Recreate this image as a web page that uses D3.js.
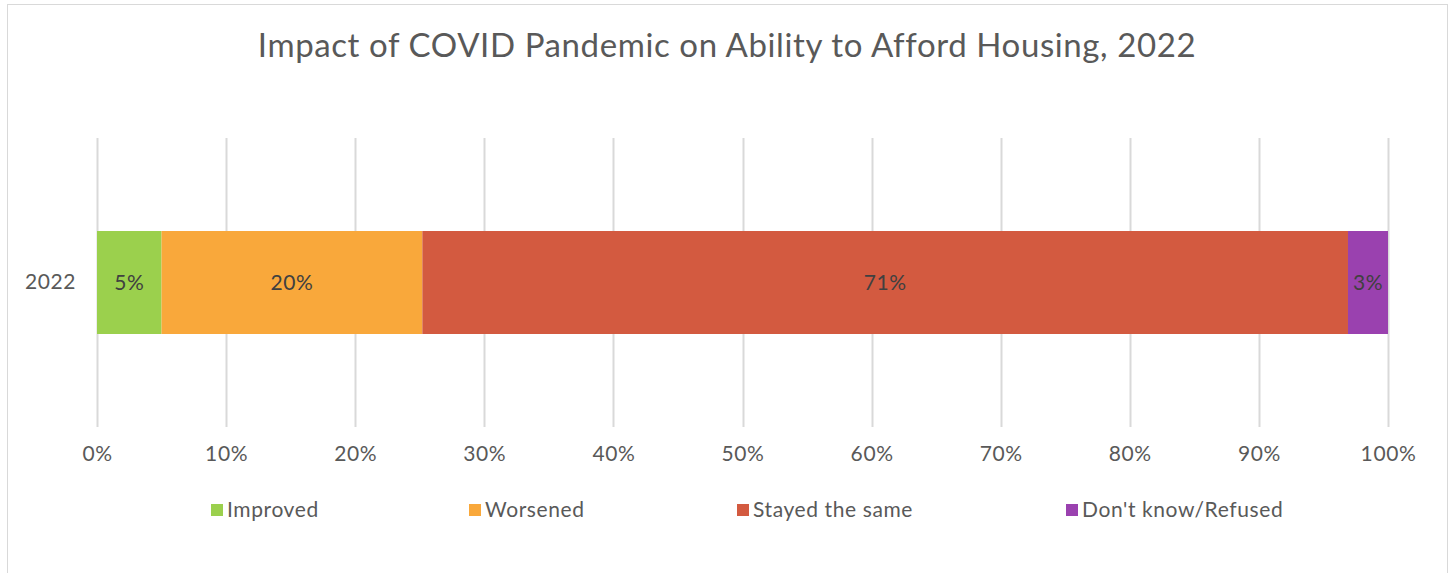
<!DOCTYPE html>
<html><head><meta charset="utf-8">
<script src="https://cdn.jsdelivr.net/npm/d3@7"></script>
<style>body{margin:0;background:#fff;} svg{display:block;font-family:Lato,"Noto Sans",sans-serif;}</style>
</head><body>
<svg id="c" width="1453" height="573"></svg>
<script>
const categories = ["2022"];
const seriesNames = ["Improved","Worsened","Stayed the same","Don't know/Refused"];
const seriesColors = ["#9BD04D","#F9A83B","#D35A40","#9A41AF"];
const values = [[5.0, 20.2, 71.7, 3.1]];
const labels = [["5%","20%","71%","3%"]];
const tickValues = [0,10,20,30,40,50,60,70,80,90,100];
const title = "Impact of COVID Pandemic on Ability to Afford Housing, 2022";

const svg = d3.select("#c");
svg.append("rect").attr("x",7.5).attr("y",4.5).attr("width",1440).attr("height",580)
  .attr("fill","#fff").attr("stroke","#d9d9d9").attr("stroke-width",1);

svg.append("text").attr("x",727).attr("y",57).attr("text-anchor","middle")
  .attr("font-size",33).attr("letter-spacing","0.6px").attr("fill","#595959").text(title);

const x = d3.scaleLinear().domain([0,100]).range([97,1388]);
const y = d3.scaleBand().domain(categories).range([138,427]).paddingInner(0.3).paddingOuter(0.32);

svg.append("g").selectAll("line").data(tickValues).join("line")
  .attr("x1",d=>Math.round(x(d))+0.5).attr("x2",d=>Math.round(x(d))+0.5)
  .attr("y1",138).attr("y2",427).attr("stroke","#d9d9d9").attr("stroke-width",2);

const xAxis = d3.axisBottom(x).tickValues(tickValues).tickFormat(d=>d+"%").tickSize(0).tickPadding(0);
const gx = svg.append("g").attr("transform","translate(0,446)").call(xAxis);
gx.select(".domain").remove();
gx.selectAll("text").attr("font-size",21).attr("letter-spacing","0.6px").attr("fill","#595959").attr("font-family","Lato,'Noto Sans',sans-serif").attr("dy","0.71em");

const yAxis = d3.axisLeft(y).tickSize(0).tickPadding(0);
const gy = svg.append("g").attr("transform","translate(76,0)").call(yAxis);
gy.select(".domain").remove();
gy.selectAll("text").attr("font-size",21).attr("letter-spacing","0.6px").attr("fill","#595959").attr("font-family","Lato,'Noto Sans',sans-serif");

const rows = categories.map((c,i)=>{const o={cat:c}; seriesNames.forEach((s,j)=>o[s]=values[i][j]); return o;});
const stack = d3.stack().keys(seriesNames)(rows);
const color = d3.scaleOrdinal().domain(seriesNames).range(seriesColors);
stack.forEach((layer,j)=>{
  const g = svg.append("g").attr("fill",color(layer.key));
  layer.forEach((d,i)=>{
    const yc = y(d.data.cat)+y.bandwidth()/2;
    g.append("rect").attr("x",x(d[0])).attr("width",x(d[1])-x(d[0]))
      .attr("y",231).attr("height",103);
    svg.append("text").attr("x",(x(d[0])+x(d[1]))/2).attr("y",yc).attr("dy","0.35em")
      .attr("text-anchor","middle").attr("font-size",21).attr("letter-spacing","0.6px").attr("fill","#404040").text(labels[i][j]);
  });
});

const legX = [211,469,737,1066];
const lg = svg.append("g");
seriesNames.forEach((s,j)=>{
  lg.append("rect").attr("x",legX[j]).attr("y",504).attr("width",12).attr("height",12).attr("fill",color(s));
  lg.append("text").attr("x",legX[j]+16).attr("y",510).attr("dy","0.35em").attr("font-size",21).attr("letter-spacing","0.6px")
    .attr("fill","#595959").text(s);
});
</script>
</body></html>
